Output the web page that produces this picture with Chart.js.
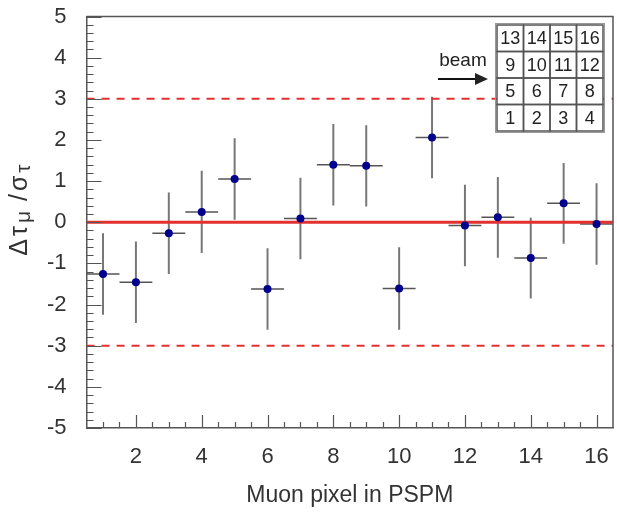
<!DOCTYPE html>
<html>
<head>
<meta charset="utf-8">
<title>Muon pixel in PSPM</title>
<script src="https://cdn.jsdelivr.net/npm/chart.js@4.4.0/dist/chart.umd.min.js"></script>
<style>
  html, body { margin: 0; padding: 0; background: #fff; }
  #wrap { width: 617px; height: 512px; }
</style>
</head>
<body>
<div id="wrap"><canvas id="myChart" width="617" height="512"></canvas></div>
<script>
// pixel number, normalised lifetime difference and its error
const pixels = [1, 2, 3, 4, 5, 6, 7, 8, 9, 10, 11, 12, 13, 14, 15, 16];
const ratio = [-1.26, -1.46, -0.27, 0.25, 1.05, -1.62, 0.09, 1.40, 1.37, -1.61, 2.06, -0.08, 0.12, -0.87, 0.46, -0.04];
const ratioErr = [0.99, 0.99, 0.99, 1.0, 0.99, 0.99, 0.99, 0.99, 0.99, 1.0, 0.99, 0.99, 0.98, 0.98, 0.98, 0.99];
const pixelHalfWidth = [0.5, 0.5, 0.5, 0.5, 0.5, 0.5, 0.5, 0.5, 0.5, 0.5, 0.5, 0.5, 0.5, 0.5, 0.5, 0.5];

const xTicks = [2, 4, 6, 8, 10, 12, 14, 16];
const yTicks = [-5, -4, -3, -2, -1, 0, 1, 2, 3, 4, 5];
const centerLevel = 0;
const limitLevels = [-3, 3];

// PSPM pixel layout shown in the inset
const pixelMap = [
  [13, 14, 15, 16],
  [9, 10, 11, 12],
  [5, 6, 7, 8],
  [1, 2, 3, 4],
];

const FONT = "'Liberation Sans', Arial, sans-serif";
const xMin = 0.5, xMax = 16.5;

// error bars as broken line segments
const vBars = [];
const hBars = [];
pixels.forEach((p, i) => {
  vBars.push({ x: p, y: ratio[i] - ratioErr[i] }, { x: p, y: ratio[i] + ratioErr[i] }, { x: p, y: null });
  hBars.push({ x: p - pixelHalfWidth[i], y: ratio[i] }, { x: p + pixelHalfWidth[i], y: ratio[i] }, { x: p, y: null });
});

const pts = pixels.map((p, i) => ({ x: p, y: ratio[i] }));
const hLine = (v) => [{ x: xMin, y: v }, { x: xMax, y: v }];

const frameTicks = {
  id: "frameTicks",
  afterDatasetsDraw(chart) {
    const { ctx, chartArea: a, scales: { x, y } } = chart;
    ctx.save();
    ctx.strokeStyle = "#555";
    ctx.lineWidth = 1.2;
    ctx.beginPath();
    // y ticks every 0.2, long at integers
    for (let k = -25; k <= 25; k++) {
      const py = Math.round(y.getPixelForValue(k / 5)) + 0.5;
      const len = k % 5 === 0 ? 15 : 7;
      ctx.moveTo(a.left, py);
      ctx.lineTo(a.left + len, py);
    }
    // x ticks every 0.5, long at even numbers
    for (let k = 2; k <= 32; k++) {
      const px = Math.round(x.getPixelForValue(k / 2)) + 0.5;
      const len = k % 4 === 0 ? 13 : 6;
      ctx.moveTo(px, a.bottom);
      ctx.lineTo(px, a.bottom - len);
    }
    ctx.stroke();
    // top and right side of the frame
    ctx.lineWidth = 1.5;
    ctx.beginPath();
    ctx.moveTo(a.left, a.top);
    ctx.lineTo(a.right, a.top);
    ctx.lineTo(a.right, a.bottom);
    ctx.stroke();
    ctx.restore();
  },
  afterDraw(chart) {
    const { ctx, chartArea: a } = chart;
    ctx.save();
    // y axis title with subscripts
    const parts = [
      { t: "Δ", s: 25, dy: 0 },
      { t: "τ", s: 25, dy: 0 },
      { t: "μ", s: 21, dy: 4 },
      { t: " /", s: 25, dy: 0 },
      { t: "σ", s: 25, dy: 0 },
      { t: "τ", s: 21, dy: 4 },
    ];
    const gap = 3;
    let total = -gap;
    parts.forEach((p) => {
      ctx.font = p.s + "px " + FONT;
      p.w = ctx.measureText(p.t).width;
      total += p.w + gap;
    });
    ctx.translate(20, 210);
    ctx.rotate(-Math.PI / 2);
    ctx.fillStyle = "#333";
    ctx.textBaseline = "middle";
    let cx = -total / 2;
    parts.forEach((p) => {
      ctx.font = p.s + "px " + FONT;
      ctx.fillText(p.t, cx, p.dy);
      cx += p.w + gap;
    });
    ctx.restore();

    // inset: beam arrow and pixel map
    ctx.save();
    const cell = 26.5;
    const gx = a.right - 116;
    const gy = a.top + 8.5;
    ctx.fillStyle = "#222";
    ctx.font = "19px " + FONT;
    ctx.textAlign = "center";
    ctx.textBaseline = "alphabetic";
    ctx.fillText("beam", gx - 34, gy + 41);
    ctx.strokeStyle = "#111";
    ctx.lineWidth = 2;
    ctx.beginPath();
    ctx.moveTo(gx - 59, gy + 54);
    ctx.lineTo(gx - 20, gy + 54);
    ctx.stroke();
    ctx.beginPath();
    ctx.moveTo(gx - 9, gy + 54);
    ctx.lineTo(gx - 22, gy + 48);
    ctx.lineTo(gx - 22, gy + 60);
    ctx.closePath();
    ctx.fill();

    ctx.fillStyle = "#fff";
    ctx.fillRect(gx, gy, cell * 4, cell * 4);
    ctx.strokeStyle = "#999";
    ctx.lineWidth = 1;
    ctx.strokeRect(gx - 1.5, gy - 1.5, cell * 4 + 3, cell * 4 + 3);
    ctx.strokeStyle = "#555";
    ctx.lineWidth = 1.5;
    ctx.font = "18px " + FONT;
    ctx.textBaseline = "middle";
    pixelMap.forEach((row, r) => {
      row.forEach((n, c) => {
        ctx.strokeRect(gx + c * cell, gy + r * cell, cell, cell);
        ctx.fillStyle = "#222";
        ctx.fillText(String(n), gx + c * cell + cell / 2, gy + r * cell + cell / 2 + 1);
      });
    });
    ctx.restore();
  },
};

const ctx = document.getElementById("myChart");

new Chart(ctx, {
  type: "scatter",
  data: {
    datasets: [
      {
        label: "pixels",
        data: pts,
        order: 0,
        pointRadius: 4,
        pointBackgroundColor: "#00008c",
        pointBorderWidth: 0,
        showLine: false,
      },
      {
        label: "zero",
        data: hLine(centerLevel),
        order: 1,
        showLine: true,
        borderColor: "#e2312f",
        borderWidth: 3,
        pointRadius: 0,
      },
      {
        label: "-3 sigma",
        data: hLine(limitLevels[0]),
        order: 1,
        showLine: true,
        borderColor: "#e2312f",
        borderWidth: 2,
        borderDash: [8, 7],
        pointRadius: 0,
      },
      {
        label: "+3 sigma",
        data: hLine(limitLevels[1]),
        order: 1,
        showLine: true,
        borderColor: "#e2312f",
        borderWidth: 2,
        borderDash: [8, 7],
        pointRadius: 0,
      },
      {
        label: "x err",
        data: hBars,
        order: 2,
        showLine: true,
        spanGaps: false,
        borderColor: "#555",
        borderWidth: 1.5,
        pointRadius: 0,
      },
      {
        label: "y err",
        data: vBars,
        order: 2,
        showLine: true,
        spanGaps: false,
        borderColor: "#777",
        borderWidth: 2,
        pointRadius: 0,
      },
    ],
  },
  options: {
    responsive: false,
    animation: false,
    devicePixelRatio: 1,
    layout: { padding: { left: 47, right: 1, top: 16.5, bottom: 0 } },
    scales: {
      x: {
        type: "linear",
        min: xMin,
        max: xMax,
        afterBuildTicks: (axis) => {
          axis.ticks = xTicks.map((v) => ({ value: v }));
        },
        ticks: {
          padding: 0,
          maxRotation: 0,
          autoSkip: false,
          color: "#333",
          font: { size: 22, family: FONT },
        },
        // hidden tick marks only reserve the gap below the axis
        grid: { display: false, drawTicks: true, tickLength: 16 },
        border: { display: true, color: "#555", width: 1.5 },
        title: {
          display: true,
          text: "Muon pixel in PSPM",
          color: "#333",
          font: { size: 23, family: FONT },
          padding: { top: 11, bottom: 3 },
        },
      },
      y: {
        type: "linear",
        min: -5,
        max: 5,
        afterBuildTicks: (axis) => {
          axis.ticks = yTicks.map((v) => ({ value: v }));
        },
        ticks: {
          padding: 0,
          color: "#333",
          font: { size: 22, family: FONT },
        },
        grid: { display: false, drawTicks: true, tickLength: 20 },
        border: { display: true, color: "#555", width: 1.5 },
      },
    },
    plugins: {
      legend: { display: false },
      tooltip: { enabled: false },
    },
  },
  plugins: [frameTicks],
});
</script>
</body>
</html>
